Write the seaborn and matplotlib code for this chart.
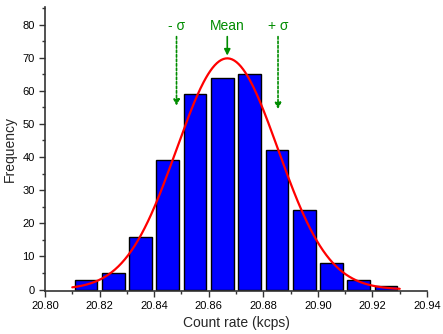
import numpy as np
import pandas as pd
import matplotlib
matplotlib.use('Agg')
import matplotlib.pyplot as plt
import seaborn as sns
from matplotlib.ticker import MultipleLocator

# Histogram data (bin centres in kcps, counts)
bin_centers = [20.815, 20.825, 20.835, 20.845, 20.855, 20.865,
               20.875, 20.885, 20.895, 20.905, 20.915, 20.925]
counts = [3, 5, 16, 39, 59, 64, 65, 42, 24, 8, 3, 1]

# Gaussian fit parameters
fit_mean = 20.8668
fit_sigma = 0.0186
fit_peak = 69.8

sns.set_style('ticks')
plt.rcParams['font.family'] = ['Liberation Sans', 'DejaVu Sans']

df = pd.DataFrame({'rate': bin_centers, 'count': counts})

fig = plt.figure(figsize=(4.43, 3.34), dpi=100)
ax = fig.add_axes([45 / 443, 1 - 290.5 / 334, 382 / 443, 283.5 / 334])

sns.barplot(data=df, x='rate', y='count', native_scale=True, width=0.83,
            color='#0000ff', saturation=1, edgecolor='black', linewidth=1.0, ax=ax)

# Fitted normal curve
xs = np.linspace(20.81, 20.93, 300)
ys = fit_peak * np.exp(-0.5 * ((xs - fit_mean) / fit_sigma) ** 2)
sns.lineplot(x=xs, y=ys, color='red', linewidth=1.6, ax=ax)

green = '#008c00'
ax.text(fit_mean, 79.6, 'Mean', color=green, ha='center', va='center', fontsize=10)
ax.text(fit_mean - fit_sigma, 79.6, '- σ', color=green, ha='center', va='center', fontsize=10)
ax.text(fit_mean + fit_sigma, 79.6, '+ σ', color=green, ha='center', va='center', fontsize=10)
ax.annotate('', xy=(fit_mean, fit_peak), xytext=(fit_mean, 77.2),
            arrowprops=dict(arrowstyle='-|>', color=green, lw=1.2, mutation_scale=9))
for sx, yend in [(fit_mean - fit_sigma, 54.6), (fit_mean + fit_sigma, 53.6)]:
    ax.annotate('', xy=(sx, yend), xytext=(sx, 77.2),
                arrowprops=dict(arrowstyle='-|>', color=green, lw=1.2,
                                linestyle=(0, (1.5, 1.2)), mutation_scale=9))

ax.set_xlim(20.80, 20.94)
ax.set_ylim(-0.3, 85.3)
ax.xaxis.set_major_locator(MultipleLocator(0.02))
ax.xaxis.set_minor_locator(MultipleLocator(0.01))
ax.yaxis.set_major_locator(MultipleLocator(10))
ax.yaxis.set_minor_locator(MultipleLocator(5))
ax.xaxis.set_major_formatter(plt.FuncFormatter(lambda v, p: f'{v:.2f}'))
ax.tick_params(which='major', length=4, width=1, colors='#333333', labelsize=8, labelcolor='black')
ax.tick_params(which='minor', length=2.5, width=1, colors='#333333')
sns.despine(ax=ax)
for s in ['left', 'bottom']:
    ax.spines[s].set_color('#333333')
    ax.spines[s].set_linewidth(1.2)

ax.set_xlabel('Count rate (kcps)', fontsize=10)
ax.set_ylabel('Frequency', fontsize=10)

fig.savefig('out.png', dpi=100)
